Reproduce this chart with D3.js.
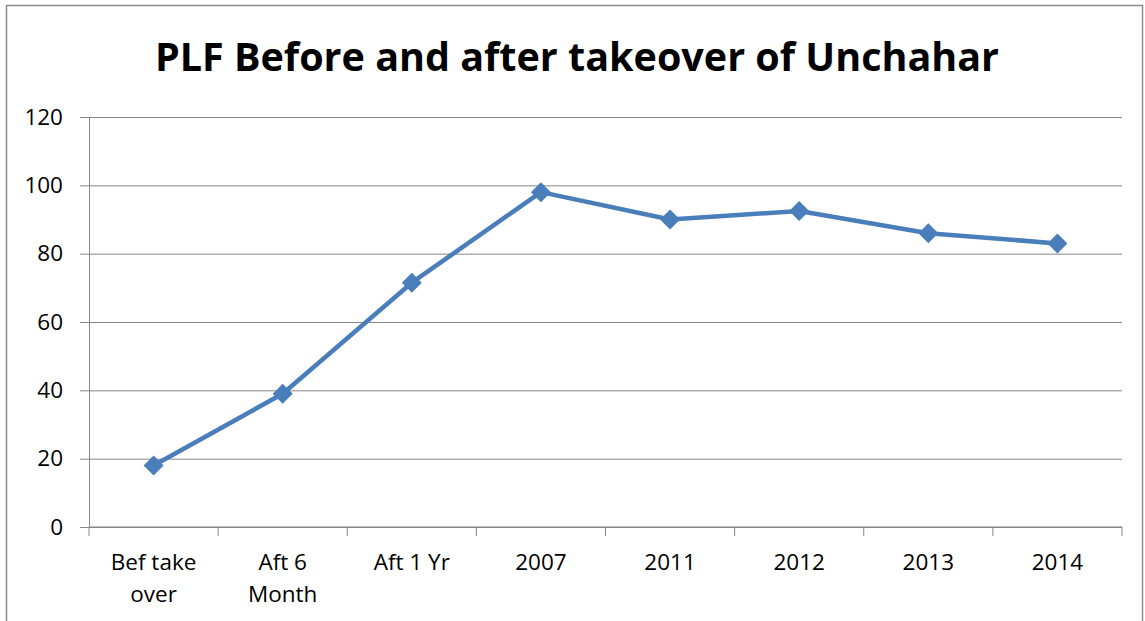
<!DOCTYPE html>
<html>
<head>
<meta charset="utf-8">
<script src="https://cdn.jsdelivr.net/npm/d3@7"></script>
<style>
  body { margin: 0; background: #fff; }
  svg { display: block; }
</style>
</head>
<body>
<div id="chart"></div>
<script>
// Chart data
const categories = [["Bef take", "over"], ["Aft 6", "Month"], ["Aft 1 Yr"], ["2007"], ["2011"], ["2012"], ["2013"], ["2014"]];
const plf = [18, 39, 71.5, 98, 90, 92.5, 86, 83];
const yTicks = [0, 20, 40, 60, 80, 100, 120];

const width = 1145, height = 621;
const margin = { left: 89, right: 23, top: 117, bottom: 94 };

const svg = d3.select("#chart")
              .append("svg")
              .attr("width", width)
              .attr("height", height);

// Outer frame
svg.append("rect")
   .attr("x", 6.5)
   .attr("y", 5.5)
   .attr("width", width - 9)
   .attr("height", height + 10)
   .attr("fill", "none")
   .attr("stroke", "#8c8c8c")
   .attr("stroke-width", 1.5);

const x = d3.scaleBand()
            .domain(d3.range(categories.length))
            .range([margin.left, width - margin.right]);

const y = d3.scaleLinear()
            .domain([0, 120])
            .range([height - margin.bottom, margin.top]);

// Gridlines + y ticks
svg.append("g")
   .attr("transform", `translate(${margin.left},0)`)
   .call(d3.axisLeft(y).tickValues(yTicks).tickSize(9).tickPadding(17))
   .call(g => g.select(".domain").attr("stroke", "#868686"))
   .call(g => g.selectAll(".tick line").attr("stroke", "#868686"))
   .call(g => g.selectAll(".tick text")
               .attr("fill", "#000")
               .style("font-family", "Open Sans, sans-serif")
               .style("font-size", "22.5px"))
   .call(g => g.selectAll(".tick").append("line")
               .attr("x2", width - margin.right - margin.left)
               .attr("stroke", "#868686"));

// x axis
const xAxis = svg.append("g")
   .attr("transform", `translate(0,${height - margin.bottom})`);

xAxis.append("line")
     .attr("x1", margin.left)
     .attr("x2", width - margin.right)
     .attr("stroke", "#868686");

xAxis.selectAll(".xt")
     .data(d3.range(categories.length + 1))
     .join("line")
     .attr("x1", i => margin.left + i * x.step())
     .attr("x2", i => margin.left + i * x.step())
     .attr("y1", 0)
     .attr("y2", 9)
     .attr("stroke", "#868686");

xAxis.selectAll(".xl")
     .data(categories)
     .join("text")
     .attr("text-anchor", "middle")
     .attr("x", (d, i) => x(i) + x.bandwidth() / 2)
     .style("font-family", "Open Sans, sans-serif")
     .style("font-size", "22.5px")
     .attr("fill", "#000")
     .selectAll("tspan")
     .data(d => d)
     .join("tspan")
     .attr("x", function() { return d3.select(this.parentNode).attr("x"); })
     .attr("y", (d, i) => 43 + i * 32)
     .text(d => d);

// Line
const line = d3.line()
               .x((d, i) => x(i) + x.bandwidth() / 2)
               .y(d => y(d));

svg.append("path")
   .datum(plf)
   .attr("fill", "none")
   .attr("stroke", "#4a7ebb")
   .attr("stroke-width", 4.5)
   .attr("stroke-linejoin", "round")
   .attr("d", line);

svg.selectAll(".marker")
   .data(plf)
   .join("path")
   .attr("class", "marker")
   .attr("transform", (d, i) => `translate(${x(i) + x.bandwidth() / 2},${y(d)})`)
   .attr("d", "M0,-10L10,0L0,10L-10,0Z")
   .attr("fill", "#4a7ebb");

// Title
svg.append("text")
   .attr("x", 577)
   .attr("y", 71)
   .attr("text-anchor", "middle")
   .style("font-family", "Open Sans, sans-serif")
   .style("font-weight", "bold")
   .style("font-size", "39.5px")
   .text("PLF Before and after takeover of Unchahar");
</script>
</body>
</html>
